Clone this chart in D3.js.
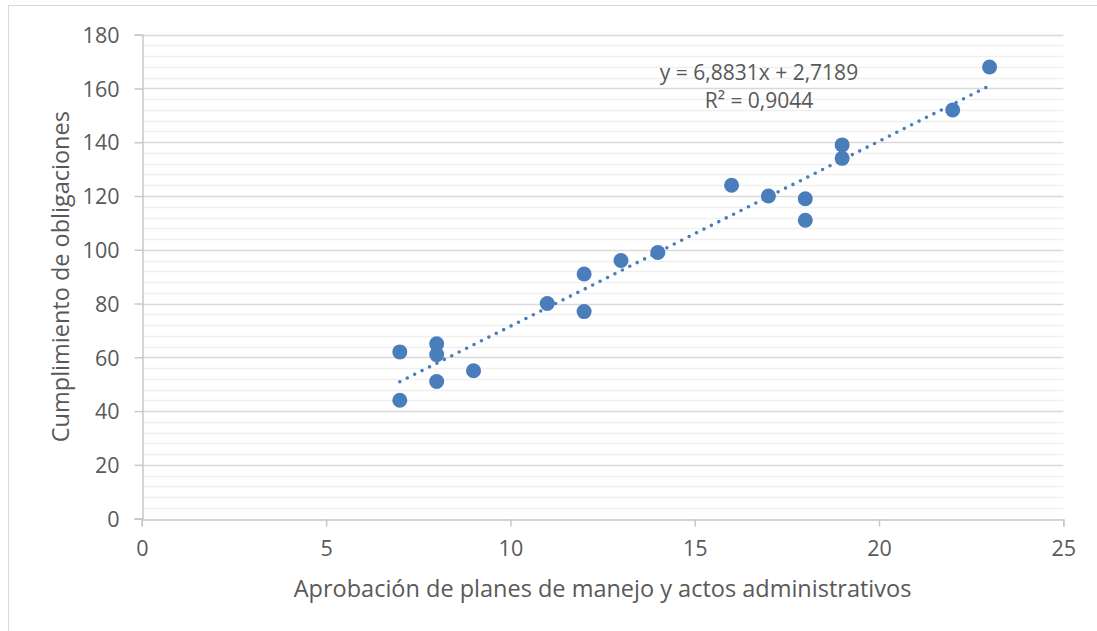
<!DOCTYPE html>
<html>
<head>
<meta charset="utf-8">
<script src="https://cdn.jsdelivr.net/npm/d3@7"></script>
<style>
  body { margin: 0; background: #fff; }
  svg text { font-family: "Open Sans", Lato, sans-serif; fill: #595959; }
</style>
</head>
<body>
<svg id="chart" width="1097" height="631"></svg>
<script>
// data
var xVals = [7, 7, 8, 8, 8, 9, 11, 12, 12, 13, 14, 16, 17, 18, 18, 19, 19, 22, 23];
var yVals = [62, 44, 65, 61, 51, 55, 80, 91, 77, 96, 99, 124, 120, 119, 111, 139, 134, 152, 168];
var xTicks = [0, 5, 10, 15, 20, 25];
var yTicks = [0, 20, 40, 60, 80, 100, 120, 140, 160, 180];
var slope = 6.8831, intercept = 2.7189; // trendline
var eqLabel = "y = 6,8831x + 2,7189";
var r2Label = "R² = 0,9044";
var xTitle = "Aprobación de planes de manejo y actos administrativos";
var yTitle = "Cumplimiento de obligaciones";

var svg = d3.select("#chart");
var pLeft = 141.8, pRight = 1063.3, pTop = 34.7, pBottom = 518.6;

var x = d3.scaleLinear().domain([0, 25]).range([pLeft, pRight]);
var y = d3.scaleLinear().domain([0, 180]).range([pBottom, pTop]);

// chart border
svg.append("rect").attr("x", 8.5).attr("y", 5.5).attr("width", 1200).attr("height", 700)
  .attr("fill", "none").attr("stroke", "#d9d9d9");

// minor gridlines every 4
var minor = d3.range(4, 180, 4).filter(function(v){ return v % 20 != 0; });
svg.append("g").selectAll("line").data(minor).enter().append("line")
  .attr("x1", pLeft).attr("x2", pRight)
  .attr("y1", function(d){ return Math.round(y(d)) + 0.5; })
  .attr("y2", function(d){ return Math.round(y(d)) + 0.5; })
  .attr("stroke", "#f0f0f0").attr("stroke-width", 1.5);

// major gridlines
svg.append("g").selectAll("line").data(yTicks.slice(1)).enter().append("line")
  .attr("x1", pLeft).attr("x2", pRight)
  .attr("y1", function(d){ return Math.round(y(d)) + 0.5; })
  .attr("y2", function(d){ return Math.round(y(d)) + 0.5; })
  .attr("stroke", "#d9d9d9").attr("stroke-width", 1.5);

// axes
var xAxis = svg.append("g").attr("transform", "translate(0," + (Math.round(pBottom) + 0.5) + ")")
  .call(d3.axisBottom(x).tickValues(xTicks).tickSize(7).tickPadding(14).tickFormat(d3.format("d")));
var yAxis = svg.append("g").attr("transform", "translate(" + (Math.round(pLeft) + 0.5) + ",0)")
  .call(d3.axisLeft(y).tickValues(yTicks).tickSize(8).tickPadding(15).tickFormat(d3.format("d")));
[xAxis, yAxis].forEach(function(g){
  g.select(".domain").attr("stroke", "#c8c8c8").attr("stroke-width", 1.5);
  g.selectAll(".tick line").attr("stroke", "#c8c8c8").attr("stroke-width", 1.5);
  g.selectAll(".tick text").attr("font-size", 21.5).style("fill", "#595959")
    .attr("font-family", "'Open Sans', sans-serif");
});
yAxis.selectAll(".tick text").attr("dy", "0.36em");
xAxis.selectAll(".tick text").attr("dy", "0.72em");

// trendline
var trend = [7, 23].map(function(v){ return [v, slope * v + intercept]; });
svg.append("path")
  .attr("d", d3.line().x(function(d){ return x(d[0]); }).y(function(d){ return y(d[1]); })(trend))
  .attr("fill", "none").attr("stroke", "#4a7ebb").attr("stroke-width", 3.6)
  .attr("stroke-linecap", "round").attr("stroke-dasharray", "0 8.3");

// points
svg.append("g").selectAll("circle").data(xVals).enter().append("circle")
  .attr("cx", function(d){ return x(d); })
  .attr("cy", function(d, i){ return y(yVals[i]); })
  .attr("r", 7.5).attr("fill", "#4a7ebb");

// trendline label
svg.append("text").attr("x", 759).attr("y", 80).attr("text-anchor", "middle")
  .attr("font-size", 21).text(eqLabel);
svg.append("text").attr("x", 759).attr("y", 108).attr("text-anchor", "middle")
  .attr("font-size", 21).text(r2Label);

// axis titles
svg.append("text").attr("x", (pLeft + pRight) / 2).attr("y", 597).attr("text-anchor", "middle")
  .attr("font-size", 23.5).text(xTitle);
svg.append("text").attr("transform", "translate(69," + ((pTop + pBottom) / 2) + ") rotate(-90)")
  .attr("text-anchor", "middle").attr("font-size", 23.5).text(yTitle);
</script>
</body>
</html>
